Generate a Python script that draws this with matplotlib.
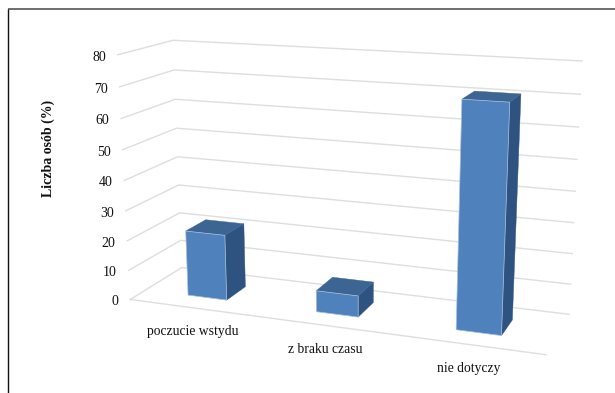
import numpy as np
import matplotlib
matplotlib.use("Agg")
import matplotlib.pyplot as plt
from matplotlib.patches import Polygon

# --------- DATA ----------
categories = ["poczucie wstydu", "z braku czasu", "nie dotyczy"]
values = [22, 7, 71]
y_ticks = [0, 10, 20, 30, 40, 50, 60, 70, 80]
y_label = "Liczba osób (%)"
# -------------------------

# box corners (x, depth, value) and where they land on the canvas
BOX = [(0, 0, 0), (0, 0, 80), (0, 1, 0), (0, 1, 80), (1, 1, 0), (1, 1, 80), (1, 0, 0)]
CANVAS = [(130, 299), (118, 55), (182, 268), (173, 40), (569, 314), (582, 61), (546, 355)]

BAR_LEFT = [0.115, 0.448, 0.783]
BAR_WIDTH = 0.103
BAR_FRONT = 0.29
BAR_BACK = 0.69

FRONT = "#4F81BD"
TOP = "#3C6594"
SIDE = "#2F5380"
GRID = "#DEDEDE"


def fit_camera():
    # least squares pinhole camera through the box corners
    rows, rhs = [], []
    for (x, d, v), (px, py) in zip(BOX, CANVAS):
        rows.append([x, d, v, 1, 0, 0, 0, 0, -px * x, -px * d, -px * v])
        rhs.append(px)
        rows.append([0, 0, 0, 0, x, d, v, 1, -py * x, -py * d, -py * v])
        rhs.append(py)
    sol = np.linalg.lstsq(np.array(rows, float), np.array(rhs, float), rcond=None)[0]
    return np.append(sol, 1).reshape(3, 4)


CAM = fit_camera()


def project(x, d, v):
    p = CAM @ np.array([x, d, v, 1.0])
    return p[0] / p[2], p[1] / p[2]


plt.rcParams["font.family"] = ["Liberation Serif", "DejaVu Serif"]

fig = plt.figure(figsize=(6.15, 3.93), dpi=100)
ax = fig.add_axes([0, 0, 1, 1])
ax.set_xlim(0, 615)
ax.set_ylim(393, 0)
ax.axis("off")

# outer frame, open on the right and at the bottom
ax.plot([8, 615], [8.5, 8.5], color="#555555", lw=1.2, solid_capstyle="butt")
ax.plot([8, 8], [8.5, 393], color="#111111", lw=1.0, solid_capstyle="butt")

# walls and floor grid
for t in y_ticks:
    pts = [project(0, 0, t), project(0, 1, t), project(1, 1, t)]
    ax.plot(*zip(*pts), color=GRID, lw=1.0, zorder=1)
    px, py = pts[0]
    ax.text(px - 12, py + 2.5, str(t), ha="right", va="center", fontsize=10, color="#111111")
floor_front = [project(0, 0, 0), project(1, 0, 0)]
ax.plot(*zip(*floor_front), color=GRID, lw=1.0, zorder=1)

# bars
for left, val in zip(BAR_LEFT, values):
    right = left + BAR_WIDTH
    front = [project(left, BAR_FRONT, 0), project(right, BAR_FRONT, 0),
             project(right, BAR_FRONT, val), project(left, BAR_FRONT, val)]
    side = [project(right, BAR_FRONT, 0), project(right, BAR_BACK, 0),
            project(right, BAR_BACK, val), project(right, BAR_FRONT, val)]
    top = [project(left, BAR_FRONT, val), project(right, BAR_FRONT, val),
           project(right, BAR_BACK, val), project(left, BAR_BACK, val)]
    ax.add_patch(Polygon(side, closed=True, fc=SIDE, ec=SIDE, lw=0.3, zorder=3))
    ax.add_patch(Polygon(top, closed=True, fc=TOP, ec=TOP, lw=0.3, zorder=3))
    ax.add_patch(Polygon(front, closed=True, fc=FRONT, ec="#A9C1DE", lw=0.5, zorder=4))

# category labels under the floor edge
for i, name in enumerate(categories):
    px, py = project((i + 0.5) / len(categories), 0, 0)
    ax.text(px, py + 24, name, ha="center", va="center", fontsize=9.8, color="#111111")

ax.text(48.5, 148, y_label, rotation=90, ha="center", va="center",
        fontsize=10, fontweight="bold", color="#111111")

fig.savefig("out.png", dpi=100)
